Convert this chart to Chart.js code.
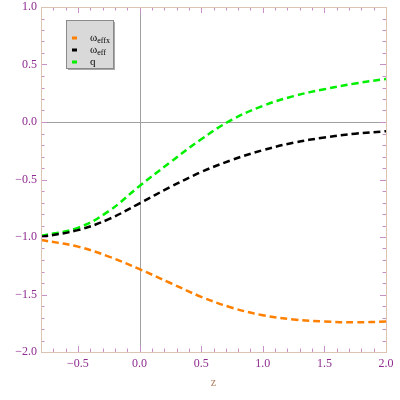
<!DOCTYPE html>
<html>
<head>
<meta charset="utf-8">
<script src="https://cdn.jsdelivr.net/npm/chart.js@4"></script>
<style>
  html, body { margin: 0; padding: 0; background: #fff; }
  #wrap { width: 400px; height: 400px; }
</style>
</head>
<body>
<div id="wrap"><canvas id="chart" width="400" height="400"></canvas></div>
<script>
// z samples
const zVals = [-0.8, -0.5, -0.25, 0, 0.25, 0.5, 0.75, 1.0, 1.25, 1.5, 1.75, 2.0];
const wEffx = [-1.026, -1.084, -1.17, -1.28, -1.40, -1.52, -1.615, -1.68, -1.717, -1.735, -1.742, -1.735];
const wEff  = [-1.0, -0.94, -0.845, -0.707, -0.565, -0.435, -0.33, -0.245, -0.18, -0.135, -0.102, -0.08];
const qVals = [-0.99, -0.92, -0.775, -0.556, -0.35, -0.15, 0.02, 0.14, 0.225, 0.285, 0.335, 0.375];

const xTicks = [-0.5, 0, 0.5, 1.0, 1.5, 2.0];
const yTicks = [-2.0, -1.5, -1.0, -0.5, 0, 0.5, 1.0];

const labelColor = '#8e2a90';
const tickColor = '#c890c8';
const frameColor = '#dcc4b4';

function pts(ys) {
  return zVals.map((z, i) => ({ x: z, y: ys[i] }));
}

function line(label, color, ys) {
  return {
    label: label,
    data: pts(ys),
    borderColor: color,
    backgroundColor: color,
    borderWidth: 2.5,
    borderDash: [7, 4],
    pointRadius: 0,
    tension: 0.4,
    fill: false
  };
}

// frame, inside ticks, zero axes
const framePlugin = {
  id: 'frame',
  beforeDatasetsDraw(chart) {
    const ctx = chart.ctx, a = chart.chartArea;
    const xs = chart.scales.x, ys = chart.scales.y;
    ctx.save();
    ctx.strokeStyle = '#a0a0a0';
    ctx.lineWidth = 1;
    const x0 = Math.round(xs.getPixelForValue(0)) + 0.5;
    const y0 = Math.round(ys.getPixelForValue(0)) + 0.5;
    ctx.beginPath();
    ctx.moveTo(x0, a.top); ctx.lineTo(x0, a.bottom);
    ctx.moveTo(a.left, y0); ctx.lineTo(a.right, y0);
    ctx.stroke();
    ctx.restore();
  },
  afterDatasetsDraw(chart) {
    const ctx = chart.ctx, a = chart.chartArea;
    const xs = chart.scales.x, ys = chart.scales.y;
    ctx.save();
    ctx.lineWidth = 1;
    ctx.strokeStyle = tickColor;
    ctx.beginPath();
    for (let i = -7; i <= 20; i++) {
      const len = i % 5 === 0 ? 6 : 3.5;
      const px = Math.round(xs.getPixelForValue(i / 10)) + 0.5;
      ctx.moveTo(px, a.bottom); ctx.lineTo(px, a.bottom - len);
      ctx.moveTo(px, a.top); ctx.lineTo(px, a.top + len);
    }
    for (let i = -20; i <= 10; i++) {
      const len = i % 5 === 0 ? 6 : 3.5;
      const py = Math.round(ys.getPixelForValue(i / 10)) + 0.5;
      ctx.moveTo(a.left, py); ctx.lineTo(a.left + len, py);
      ctx.moveTo(a.right, py); ctx.lineTo(a.right - len, py);
    }
    ctx.stroke();
    ctx.strokeStyle = frameColor;
    ctx.strokeRect(Math.round(a.left) + 0.5, Math.round(a.top) + 0.5,
      Math.round(a.right - a.left), Math.round(a.bottom - a.top));
    ctx.restore();
  }
};

// Mathematica style legend box with subscripts
const legendPlugin = {
  id: 'boxLegend',
  afterDraw(chart) {
    const ctx = chart.ctx;
    const bx = 66, by = 20, bw = 47, bh = 48;
    ctx.save();
    ctx.fillStyle = '#a8a8a8';
    ctx.fillRect(bx + 2, by + 2, bw, bh);
    ctx.fillStyle = '#d9d9d9';
    ctx.fillRect(bx, by, bw, bh);
    ctx.strokeStyle = '#8a8a8a';
    ctx.lineWidth = 1;
    ctx.strokeRect(bx + 0.5, by + 0.5, bw, bh);
    const rows = [
      { y: 38, main: 'ω', sub: 'effx' },
      { y: 50, main: 'ω', sub: 'eff' },
      { y: 62, main: 'q', sub: '' }
    ];
    chart.data.datasets.forEach((ds, i) => {
      const r = rows[i];
      ctx.fillStyle = ds.borderColor;
      ctx.fillRect(72, r.y - 1.5, 5, 3);
      ctx.fillStyle = '#000';
      ctx.textBaseline = 'middle';
      ctx.font = '11px "Liberation Serif"';
      ctx.fillText(r.main, 90, r.y);
      if (r.sub) {
        const w = ctx.measureText(r.main).width;
        ctx.font = '8px "Liberation Serif"';
        ctx.fillText(r.sub, 90 + w, r.y + 3);
      }
    });
    ctx.restore();
  }
};

new Chart(document.getElementById('chart'), {
  type: 'line',
  data: {
    datasets: [
      line('ωeffx', 'rgb(255,128,0)', wEffx),
      line('ωeff', '#000000', wEff),
      line('q', 'rgb(0,240,0)', qVals)
    ]
  },
  options: {
    responsive: false,
    animation: false,
    layout: { padding: { top: 7, right: 14, left: 0, bottom: 0 } },
    plugins: { legend: { display: false }, tooltip: { enabled: false } },
    scales: {
      x: {
        type: 'linear',
        min: -0.8,
        max: 2.0,
        afterBuildTicks: (s) => { s.ticks = xTicks.map(v => ({ value: v })); },
        afterFit: (s) => { s.height = 48; s.paddingLeft = 0; s.paddingRight = 0; },
        grid: { display: false, drawTicks: false },
        border: { display: false },
        ticks: {
          color: labelColor,
          padding: 5,
          maxRotation: 0,
          font: { family: 'Liberation Serif', size: 12 },
          callback: (v) => v.toFixed(1).replace('-', '\u2212')
        },
        title: {
          display: true,
          text: 'z',
          color: '#b08060',
          font: { family: 'Liberation Serif', size: 12 },
          padding: { top: 4, bottom: 10 }
        }
      },
      y: {
        type: 'linear',
        min: -2.0,
        max: 1.0,
        afterBuildTicks: (s) => { s.ticks = yTicks.map(v => ({ value: v })); },
        afterFit: (s) => { s.width = 41; s.paddingTop = 0; s.paddingBottom = 0; },
        grid: { display: false, drawTicks: false },
        border: { display: false },
        ticks: {
          color: labelColor,
          padding: 4,
          font: { family: 'Liberation Serif', size: 12 },
          callback: (v) => v.toFixed(1).replace('-', '\u2212')
        }
      }
    }
  },
  plugins: [framePlugin, legendPlugin]
});
</script>
</body>
</html>
